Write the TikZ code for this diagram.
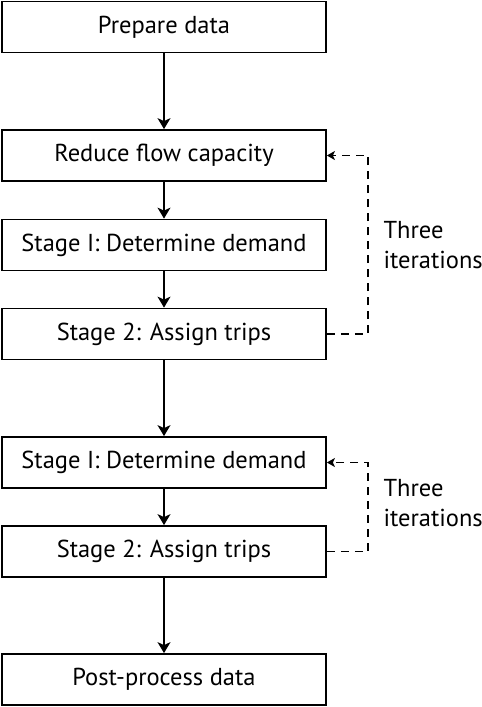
\documentclass[tikz,border=0pt]{standalone}
\usepackage{fontspec}
\setmainfont{PT Sans}
\usetikzlibrary{arrows.meta}
\tikzset{
  stepbox/.style={draw, line width=1.8pt, rectangle, minimum width=324pt, minimum height=51pt, inner sep=0pt, font=\fontsize{24.5}{30}\selectfont},
  loopline/.style={line width=1.3pt, dash pattern=on 8pt off 6pt, -{Stealth[length=8pt,width=9pt,inset=2pt]}},
  looptext/.style={anchor=west, align=left, font=\fontsize{24.5}{30}\selectfont}
}
\begin{document}
\begin{tikzpicture}[x=1pt, y=1pt, >={Stealth[length=11pt,width=13pt,inset=3pt]}]
\useasboundingbox (0,0) rectangle (482,-707);

\node(Prep)[stepbox] at (164,-27) {Prepare data};
\node(Reduce)[stepbox] at (164,-155.5) {Reduce flow capacity};
\node(DemA)[stepbox] at (164,-245) {Stage I: Determine demand};
\node(TripA)[stepbox] at (164,-334) {Stage 2: Assign trips};
\node(DemB)[stepbox] at (164,-462.5) {Stage I: Determine demand};
\node(TripB)[stepbox] at (164,-551.5) {Stage 2: Assign trips};
\node(Post)[stepbox] at (164,-679.5) {Post-process data};

\draw[line width=1.3pt] (Prep.south) edge[->] (Reduce.north);
\draw[line width=1.3pt] (Reduce.south) edge[->] (DemA.north);
\draw[line width=1.3pt] (DemA.south) edge[->] (TripA.north);
\draw[line width=1.3pt] (TripA.south) edge[->] (DemB.north);
\draw[line width=1.3pt] (DemB.south) edge[->] (TripB.north);
\draw[line width=1.3pt] (TripB.south) edge[->] (Post.north);

% three iterations loops
\coordinate(CornA) at (368,-334);
\coordinate(CornB) at (368,-551.5);
\draw[loopline] (TripA.east) -- (CornA) |- (Reduce.east);
\draw[loopline] (TripB.east) -- (CornB) |- (DemB.east);
\node(IterA)[looptext] at (380,-245) {Three\\iterations};
\node(IterB)[looptext] at (380,-503) {Three\\iterations};
\end{tikzpicture}
\end{document}
